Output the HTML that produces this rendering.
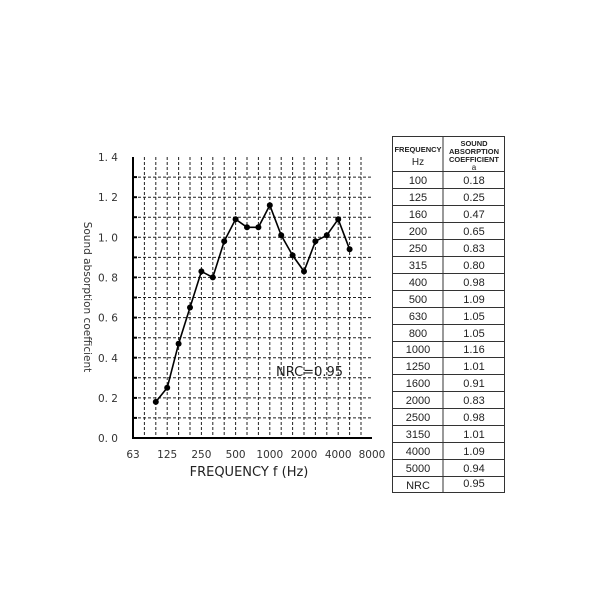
<!DOCTYPE html>
<html><head><meta charset="utf-8"><style>
html,body{margin:0;padding:0;background:#fff;}
svg{display:block;font-family:"DejaVu Sans","Liberation Sans",sans-serif;}
</style></head><body>
<svg width="600" height="600" viewBox="0 0 600 600" xmlns="http://www.w3.org/2000/svg">
<g stroke="#222" stroke-width="1" stroke-dasharray="3,2">
<line x1="144.4" y1="157" x2="144.4" y2="438"/><line x1="155.8" y1="157" x2="155.8" y2="438"/>
<line x1="167.2" y1="157" x2="167.2" y2="438"/><line x1="178.6" y1="157" x2="178.6" y2="438"/>
<line x1="190" y1="157" x2="190" y2="438"/><line x1="201.4" y1="157" x2="201.4" y2="438"/>
<line x1="212.8" y1="157" x2="212.8" y2="438"/><line x1="224.2" y1="157" x2="224.2" y2="438"/>
<line x1="235.6" y1="157" x2="235.6" y2="438"/><line x1="247" y1="157" x2="247" y2="438"/>
<line x1="258.4" y1="157" x2="258.4" y2="438"/><line x1="269.8" y1="157" x2="269.8" y2="438"/>
<line x1="281.2" y1="157" x2="281.2" y2="438"/><line x1="292.6" y1="157" x2="292.6" y2="438"/>
<line x1="304" y1="157" x2="304" y2="438"/><line x1="315.4" y1="157" x2="315.4" y2="438"/>
<line x1="326.8" y1="157" x2="326.8" y2="438"/><line x1="338.2" y1="157" x2="338.2" y2="438"/>
<line x1="349.6" y1="157" x2="349.6" y2="438"/><line x1="361" y1="157" x2="361" y2="438"/>
</g>
<g stroke="#222" stroke-width="1" stroke-dasharray="3,2">
<line x1="133" y1="417.9" x2="372" y2="417.9"/><line x1="133" y1="397.9" x2="372" y2="397.9"/>
<line x1="133" y1="377.8" x2="372" y2="377.8"/><line x1="133" y1="357.7" x2="372" y2="357.7"/>
<line x1="133" y1="337.7" x2="372" y2="337.7"/><line x1="133" y1="317.6" x2="372" y2="317.6"/>
<line x1="133" y1="297.5" x2="372" y2="297.5"/><line x1="133" y1="277.4" x2="372" y2="277.4"/>
<line x1="133" y1="257.4" x2="372" y2="257.4"/><line x1="133" y1="237.3" x2="372" y2="237.3"/>
<line x1="133" y1="217.2" x2="372" y2="217.2"/><line x1="133" y1="197.2" x2="372" y2="197.2"/>
<line x1="133" y1="177.1" x2="372" y2="177.1"/>
</g>
<g stroke="#000" stroke-width="2">
<line x1="133" y1="157" x2="133" y2="439"/>
<line x1="132" y1="438" x2="372" y2="438"/>
</g>
<g stroke="#000" stroke-width="2">
<line x1="133" y1="417.9" x2="137" y2="417.9"/><line x1="133" y1="397.9" x2="137" y2="397.9"/>
<line x1="133" y1="377.8" x2="137" y2="377.8"/><line x1="133" y1="357.7" x2="137" y2="357.7"/>
<line x1="133" y1="337.7" x2="137" y2="337.7"/><line x1="133" y1="317.6" x2="137" y2="317.6"/>
<line x1="133" y1="297.5" x2="137" y2="297.5"/><line x1="133" y1="277.4" x2="137" y2="277.4"/>
<line x1="133" y1="257.4" x2="137" y2="257.4"/><line x1="133" y1="237.3" x2="137" y2="237.3"/>
<line x1="133" y1="217.2" x2="137" y2="217.2"/><line x1="133" y1="197.2" x2="137" y2="197.2"/>
<line x1="133" y1="177.1" x2="137" y2="177.1"/>
</g>
<polyline fill="none" stroke="#000" stroke-width="1.6" points="155.8,401.9 167.2,387.8 178.6,343.7 190,307.5 201.4,271.4 212.8,277.4 224.2,241.3 235.6,219.2 247,227.3 258.4,227.3 269.8,205.2 281.2,235.3 292.6,255.4 304,271.4 315.4,241.3 326.8,235.3 338.2,219.2 349.6,249.3"/>
<g fill="#000">
<circle cx="155.8" cy="401.9" r="3"/><circle cx="167.2" cy="387.8" r="3"/><circle cx="178.6" cy="343.7" r="3"/>
<circle cx="190" cy="307.5" r="3"/><circle cx="201.4" cy="271.4" r="3"/><circle cx="212.8" cy="277.4" r="3"/>
<circle cx="224.2" cy="241.3" r="3"/><circle cx="235.6" cy="219.2" r="3"/><circle cx="247" cy="227.3" r="3"/>
<circle cx="258.4" cy="227.3" r="3"/><circle cx="269.8" cy="205.2" r="3"/><circle cx="281.2" cy="235.3" r="3"/>
<circle cx="292.6" cy="255.4" r="3"/><circle cx="304" cy="271.4" r="3"/><circle cx="315.4" cy="241.3" r="3"/>
<circle cx="326.8" cy="235.3" r="3"/><circle cx="338.2" cy="219.2" r="3"/><circle cx="349.6" cy="249.3" r="3"/>
</g>
<g font-size="10.5" fill="#333" text-anchor="end">
<text x="118" y="442">0. 0</text><text x="118" y="402">0. 2</text><text x="118" y="362">0. 4</text>
<text x="118" y="321.5">0. 6</text><text x="118" y="281.5">0. 8</text><text x="118" y="241.5">1. 0</text>
<text x="118" y="201">1. 2</text><text x="118" y="161">1. 4</text>
</g>
<g font-size="10.5" fill="#333" text-anchor="middle">
<text x="133" y="458">63</text><text x="167.2" y="458">125</text><text x="201.4" y="458">250</text>
<text x="235.6" y="458">500</text><text x="269.8" y="458">1000</text><text x="304" y="458">2000</text>
<text x="338.2" y="458">4000</text><text x="372" y="458">8000</text>
</g>
<text x="249" y="476" font-size="13" fill="#222" text-anchor="middle">FREQUENCY f (Hz)</text>
<text transform="translate(84,297) rotate(90)" font-size="10.5" fill="#333" text-anchor="middle">Sound absorption coefficient</text>
<text x="276" y="376" font-size="13" fill="#222">NRC=0.95</text>

<g stroke="#333" stroke-width="1" fill="none">
<rect x="392.5" y="136.5" width="112" height="356"/>
<line x1="443" y1="136.5" x2="443" y2="492.5"/>
<line x1="392.5" y1="171.5" x2="504.5" y2="171.5"/><line x1="392.5" y1="188.5" x2="504.5" y2="188.5"/>
<line x1="392.5" y1="205.5" x2="504.5" y2="205.5"/><line x1="392.5" y1="222.5" x2="504.5" y2="222.5"/>
<line x1="392.5" y1="239.5" x2="504.5" y2="239.5"/><line x1="392.5" y1="256.5" x2="504.5" y2="256.5"/>
<line x1="392.5" y1="273.5" x2="504.5" y2="273.5"/><line x1="392.5" y1="290.5" x2="504.5" y2="290.5"/>
<line x1="392.5" y1="307.5" x2="504.5" y2="307.5"/><line x1="392.5" y1="324.5" x2="504.5" y2="324.5"/>
<line x1="392.5" y1="341.5" x2="504.5" y2="341.5"/><line x1="392.5" y1="357.5" x2="504.5" y2="357.5"/>
<line x1="392.5" y1="374.5" x2="504.5" y2="374.5"/><line x1="392.5" y1="391.5" x2="504.5" y2="391.5"/>
<line x1="392.5" y1="408.5" x2="504.5" y2="408.5"/><line x1="392.5" y1="425.5" x2="504.5" y2="425.5"/>
<line x1="392.5" y1="442.5" x2="504.5" y2="442.5"/><line x1="392.5" y1="459.5" x2="504.5" y2="459.5"/>
<line x1="392.5" y1="476.5" x2="504.5" y2="476.5"/>
</g>
<g font-family="Liberation Sans, sans-serif" fill="#222" text-anchor="middle">
<text x="418" y="152" font-size="7.5" font-weight="bold">FREQUENCY</text>
<text x="418" y="165" font-size="10">Hz</text>
<text x="474" y="146" font-size="7.5" font-weight="bold">SOUND</text>
<text x="474" y="154" font-size="7.5" font-weight="bold">ABSORPTION</text>
<text x="474" y="162" font-size="7.5" font-weight="bold">COEFFICIENT</text>
<text x="474" y="170" font-size="8">a</text>
</g>
<g font-family="Liberation Sans, sans-serif" font-size="11" fill="#222" text-anchor="middle">
<text x="418" y="184">100</text><text x="474" y="184">0.18</text>
<text x="418" y="201">125</text><text x="474" y="201">0.25</text>
<text x="418" y="218">160</text><text x="474" y="218">0.47</text>
<text x="418" y="235">200</text><text x="474" y="235">0.65</text>
<text x="418" y="252">250</text><text x="474" y="252">0.83</text>
<text x="418" y="269">315</text><text x="474" y="269">0.80</text>
<text x="418" y="286">400</text><text x="474" y="286">0.98</text>
<text x="418" y="303">500</text><text x="474" y="303">1.09</text>
<text x="418" y="320">630</text><text x="474" y="320">1.05</text>
<text x="418" y="337">800</text><text x="474" y="337">1.05</text>
<text x="418" y="353">1000</text><text x="474" y="353">1.16</text>
<text x="418" y="370">1250</text><text x="474" y="370">1.01</text>
<text x="418" y="387">1600</text><text x="474" y="387">0.91</text>
<text x="418" y="404">2000</text><text x="474" y="404">0.83</text>
<text x="418" y="421">2500</text><text x="474" y="421">0.98</text>
<text x="418" y="438">3150</text><text x="474" y="438">1.01</text>
<text x="418" y="455">4000</text><text x="474" y="455">1.09</text>
<text x="418" y="472">5000</text><text x="474" y="472">0.94</text>
<text x="418" y="489">NRC</text><text x="474" y="487">0.95</text>
</g>
</svg>
</body></html>
